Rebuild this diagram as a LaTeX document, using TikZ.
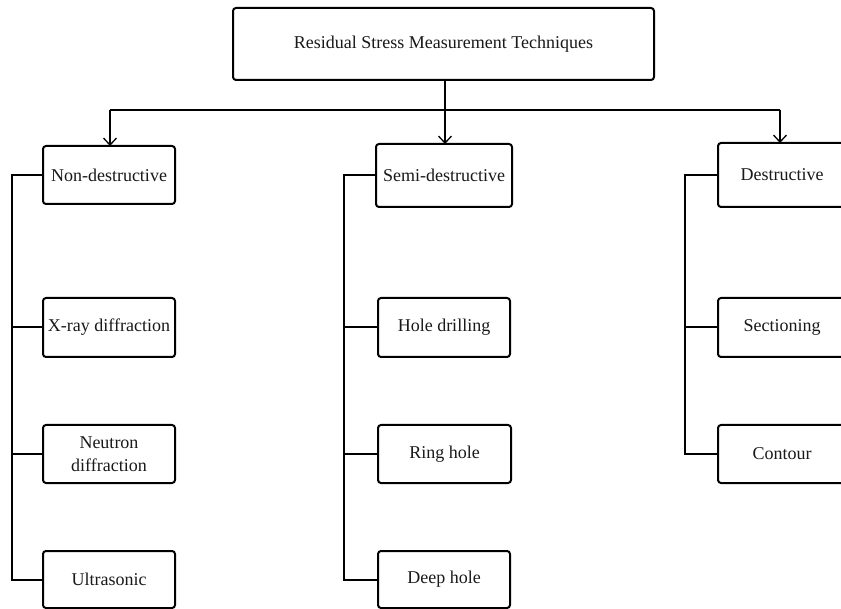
\documentclass[tikz,border=0pt]{standalone}
\usepackage{fontspec}
\setmainfont{Liberation Serif}
\usetikzlibrary{arrows.meta}
\begin{document}
\begin{tikzpicture}[x=1pt,y=-1pt,
  box/.style={draw=black, line width=2pt, rounded corners=3pt, align=center,
    inner sep=0pt, font=\fontsize{18}{23}\selectfont, text=black!90},
  thick line/.style={line width=2pt},
  thin line/.style={line width=1.3pt},
  arr/.style={line width=1.3pt, -{Straight Barb[length=7pt,width=13pt,line width=1.3pt]}}]
\clip (0,0) rectangle (841,609);
\fill[white] (0,0) rectangle (841,609);
% top
\node[box, minimum width=421pt, minimum height=72pt] (top) at (443.5,44) {Residual Stress Measurement Techniques};
% categories
\node[box, minimum width=132pt, minimum height=58pt] (nd) at (109,175) {Non-destructive};
\node[box, minimum width=136pt, minimum height=63pt] (sd) at (444,175.5) {Semi-destructive};
\node[box, minimum width=128pt, minimum height=64pt] (de) at (782,175) {Destructive};
% non-destructive
\node[box, minimum width=132pt, minimum height=59pt] (xr) at (109,327.5) {X-ray diffraction};
\node[box, minimum width=132pt, minimum height=58pt] (ne) at (109,454) {Neutron\\diffraction};
\node[box, minimum width=132pt, minimum height=57pt] (us) at (109,579.5) {Ultrasonic};
% semi-destructive
\node[box, minimum width=132pt, minimum height=59pt] (hd) at (444,327.5) {Hole drilling};
\node[box, minimum width=133pt, minimum height=58pt] (rh) at (444.5,454) {Ring hole};
\node[box, minimum width=132pt, minimum height=57pt] (dh) at (444,579.5) {Deep hole};
% destructive
\node[box, minimum width=128pt, minimum height=59pt] (se) at (782,327.5) {Sectioning};
\node[box, minimum width=128pt, minimum height=58pt] (co) at (782,454) {Contour};
% top connectors
\coordinate (j) at (445,110);
\draw[thick line] (top.south -| j) -- (j);
\draw[thin line] (110,110) -- (780,110);
\draw[arr] (110,110) -- (110,146);
\draw[arr] (j) -- (445,144);
\draw[arr] (780,110) -- (780,143);
% spines
\coordinate (sl) at (12,0);
\coordinate (sm) at (344,0);
\coordinate (sr) at (685,0);
\draw[thick line] (nd.west) -- (nd.west -| sl) -- (us.west -| sl) -- (us.west);
\draw[thick line] (xr.west -| sl) -- (xr.west);
\draw[thick line] (ne.west -| sl) -- (ne.west);
\draw[thick line] (sd.west) -- (sd.west -| sm) -- (dh.west -| sm) -- (dh.west);
\draw[thick line] (hd.west -| sm) -- (hd.west);
\draw[thick line] (rh.west -| sm) -- (rh.west);
\draw[thick line] (de.west) -- (de.west -| sr) -- (co.west -| sr) -- (co.west);
\draw[thick line] (se.west -| sr) -- (se.west);
\end{tikzpicture}
\end{document}
